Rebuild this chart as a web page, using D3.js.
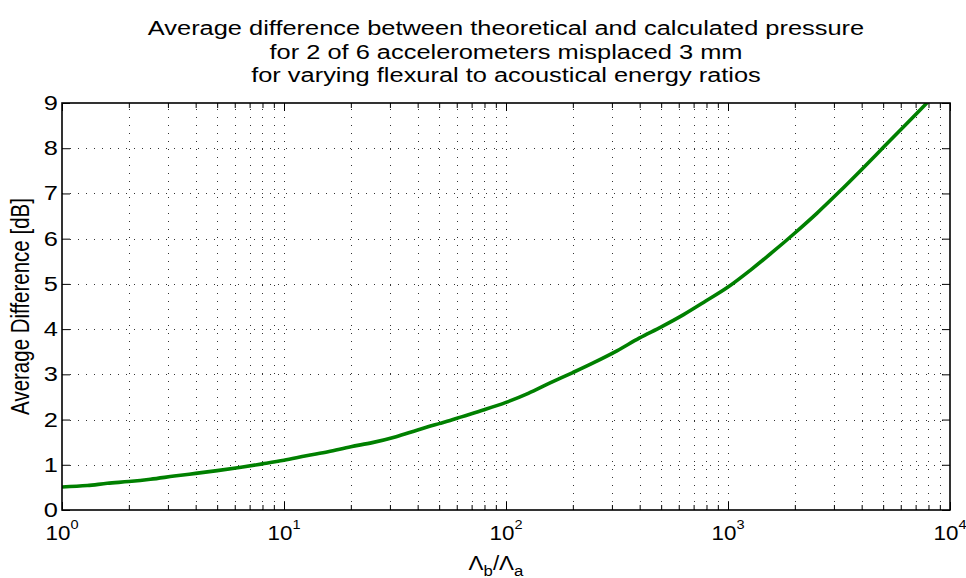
<!DOCTYPE html>
<html>
<head>
<meta charset="utf-8">
<script src="https://cdn.jsdelivr.net/npm/d3@7"></script>
<style>
  html, body { margin: 0; padding: 0; background: #fff; }
  svg { display: block; font-family: "Liberation Sans", Arial, sans-serif; }
</style>
</head>
<body>
<svg id="chart" width="966" height="578"></svg>
<script>
// Energy ratio (Λb/Λa) samples and the average pressure difference in dB
const ratio = [1, 1.3, 1.6, 2, 2.5, 3.2, 4, 5, 6.3, 8,
               10, 12.6, 15.8, 20, 25, 32, 40, 50, 56, 63, 79,
               100, 126, 158, 200, 251, 316, 398, 501, 631, 794,
               1000, 1259, 1585, 1995, 2512, 3162, 3981, 5012, 6310, 7943, 10000];
const avgDiff = [0.51, 0.54, 0.59, 0.63, 0.68, 0.75, 0.81, 0.87, 0.94, 1.02,
                 1.10, 1.20, 1.29, 1.40, 1.49, 1.62, 1.77, 1.91, 1.98, 2.06, 2.21,
                 2.38, 2.58, 2.81, 3.04, 3.27, 3.52, 3.80, 4.05, 4.32, 4.62,
                 4.93, 5.30, 5.70, 6.12, 6.56, 7.03, 7.52, 8.02, 8.52, 9.02, 9.52];

const xMajorTicks = [1, 10, 100, 1000, 10000];
const xTickExponents = ["0", "1", "2", "3", "4"];
const yTicks = [0, 1, 2, 3, 4, 5, 6, 7, 8, 9];

const titleLines = [
  "Average difference between theoretical and calculated pressure",
  "for 2 of 6 accelerometers misplaced 3 mm",
  "for varying flexural to acoustical energy ratios"
];
const yLabel = "Average Difference [dB]";

const svg = d3.select("#chart");
const L = 62, R = 950, T = 103, B = 510;
const FS = 20;
const SX = 1.27;     // wide lettering of the title and tick numbers
const SX_X = 1.12;   // lettering of the x-axis labels

const x = d3.scaleLog().domain([1, 10000]).range([L, R]);
const y = d3.scaleLinear().domain([0, 9]).range([B, T]);

// minor log positions 2..9 in every decade
const xMinor = [];
for (let e = 0; e < 4; e++) for (let k = 2; k <= 9; k++) xMinor.push(k * Math.pow(10, e));

// dotted grid
const grid = svg.append("g").attr("stroke", "#333").attr("stroke-width", 1)
  .attr("stroke-dasharray", "1,7");
grid.selectAll("line.vx").data(xMinor.concat([10, 100, 1000])).join("line")
  .attr("x1", d => Math.round(x(d)) + 0.5).attr("x2", d => Math.round(x(d)) + 0.5)
  .attr("y1", B).attr("y2", T);
grid.selectAll("line.hy").data(yTicks.slice(1, -1)).join("line")
  .attr("x1", L).attr("x2", R)
  .attr("y1", d => Math.round(y(d)) + 0.5).attr("y2", d => Math.round(y(d)) + 0.5);

// data curve, clipped to the axes box
svg.append("clipPath").attr("id", "plotclip").append("rect")
  .attr("x", L).attr("y", T).attr("width", R - L).attr("height", B - T);
const line = d3.line().x((d, i) => x(ratio[i])).y(d => y(d)).curve(d3.curveMonotoneX);
svg.append("path").datum(avgDiff)
  .attr("clip-path", "url(#plotclip)")
  .attr("fill", "none").attr("stroke", "#008000").attr("stroke-width", 3.6)
  .attr("stroke-linejoin", "round")
  .attr("d", line);

// axes with inward ticks on all four sides
function styleAxis(g) {
  g.select(".domain").remove();
  g.selectAll(".tick text").remove();
  g.selectAll(".tick line").attr("stroke", "#000").attr("stroke-width", 1);
}
const noLabel = () => "";

svg.append("g").attr("transform", `translate(0,${B})`)
  .call(d3.axisBottom(x).tickValues(xMajorTicks).tickSize(-8).tickFormat(noLabel)).call(styleAxis);
svg.append("g").attr("transform", `translate(0,${B})`)
  .call(d3.axisBottom(x).tickValues(xMinor).tickSize(-5).tickFormat(noLabel)).call(styleAxis);
svg.append("g").attr("transform", `translate(0,${T})`)
  .call(d3.axisTop(x).tickValues(xMajorTicks).tickSize(-8).tickFormat(noLabel)).call(styleAxis);
svg.append("g").attr("transform", `translate(0,${T})`)
  .call(d3.axisTop(x).tickValues(xMinor).tickSize(-5).tickFormat(noLabel)).call(styleAxis);
svg.append("g").attr("transform", `translate(${L},0)`)
  .call(d3.axisLeft(y).tickValues(yTicks).tickSize(-8).tickFormat(noLabel)).call(styleAxis);
svg.append("g").attr("transform", `translate(${R},0)`)
  .call(d3.axisRight(y).tickValues(yTicks).tickSize(-8).tickFormat(noLabel)).call(styleAxis);

// box
svg.append("rect").attr("x", L).attr("y", T).attr("width", R - L).attr("height", B - T)
  .attr("fill", "none").attr("stroke", "#000").attr("stroke-width", 1.6);

// horizontally stretched text
function stext(px, py, anchor, size, sx) {
  return svg.append("text")
    .attr("transform", `translate(${px},${py}) scale(${sx},1)`)
    .attr("text-anchor", anchor).attr("font-size", size).attr("fill", "#000");
}

// y tick labels
yTicks.forEach(v => {
  stext(L - 4, y(v) + 7, "end", FS, SX).text(d3.format("d")(v));
});

// x tick labels: 10 with exponent
xMajorTicks.forEach((v, i) => {
  const t = stext(x(v), 540, "middle", FS, SX_X);
  t.append("tspan").text("10");
  t.append("tspan").attr("dy", -11).attr("font-size", 13).text(xTickExponents[i]);
});

// title
titleLines.forEach((s, i) => {
  stext((L + R) / 2, 35 + i * 23.5, "middle", FS, SX).text(s);
});

// y label
svg.append("text")
  .attr("transform", `translate(29,${(T + B) / 2}) scale(${SX},1) rotate(-90)`)
  .attr("text-anchor", "middle").attr("font-size", 20.5).attr("fill", "#000")
  .text(yLabel);

// x label: Λb/Λa with subscripts
const xl = stext(496, 570, "middle", FS, SX_X);
xl.append("tspan").text("Λ");
xl.append("tspan").attr("dy", 6).attr("font-size", 15).text("b");
xl.append("tspan").attr("dy", -6).text("/Λ");
xl.append("tspan").attr("dy", 6).attr("font-size", 15).text("a");
</script>
</body>
</html>
